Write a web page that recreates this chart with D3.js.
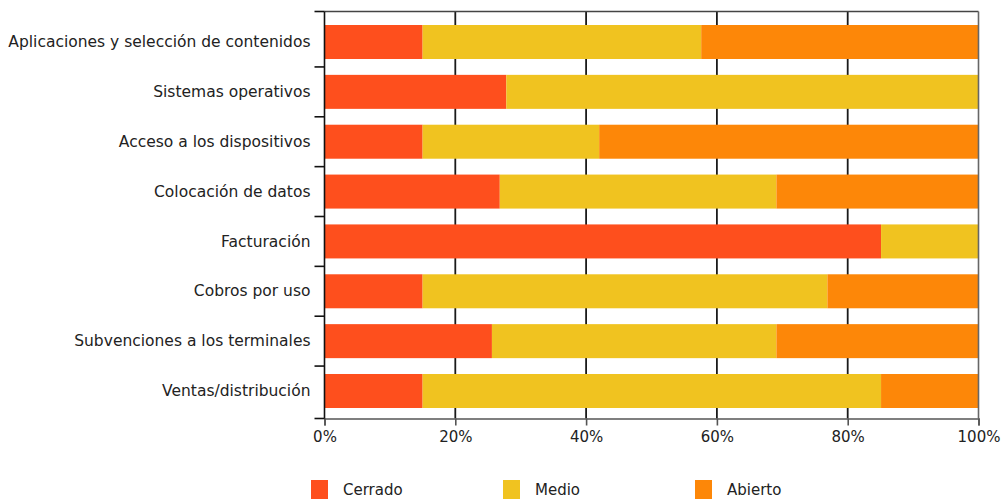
<!DOCTYPE html>
<html>
<head>
<meta charset="utf-8">
<script src="https://cdn.jsdelivr.net/npm/d3@7"></script>
<style>
  body { margin: 0; background: #fff; }
  text { font-family: "DejaVu Sans", Verdana, sans-serif; fill: #222; }
</style>
</head>
<body>
<div class="chart"></div>
<script>
var categories = ["Aplicaciones y selección de contenidos",
  "Sistemas operativos",
  "Acceso a los dispositivos",
  "Colocación de datos",
  "Facturación",
  "Cobros por uso",
  "Subvenciones a los terminales",
  "Ventas/distribución"];

var seriesNames = ["Cerrado", "Medio", "Abierto"];
var cerrado = [15, 27.8, 15, 26.8, 85.1, 15, 25.6, 15];
var medio   = [42.6, 72.2, 27, 42.3, 14.9, 61.9, 43.5, 70.1];
var abierto = [42.4, 0, 58, 30.9, 0, 23.1, 30.9, 14.9];
var xTicks = [0, 20, 40, 60, 80, 100];
var colors = ["#fe4f1d", "#f0c320", "#fd8708"];

var svgWidth = 1003;
var svgHeight = 502;
var margin = { top: 11.5, right: 24.5, bottom: 83.5, left: 324.5 };
var width = svgWidth - margin.left - margin.right;
var height = svgHeight - margin.top - margin.bottom;

var svg = d3.select(".chart")
  .append("svg")
  .attr("width", svgWidth)
  .attr("height", svgHeight);

var chartGroup = svg.append("g")
  .attr("transform", `translate(${margin.left}, ${margin.top})`);

// build rows for the stack
var rows = categories.map(function(c, i) {
  return { cat: c, Cerrado: cerrado[i], Medio: medio[i], Abierto: abierto[i] };
});
var stacked = d3.stack().keys(seriesNames)(rows);

var xScale = d3.scaleLinear().domain([0, 100]).range([0, width]);
// bars sit a little lower than the frame top
var yScale = d3.scaleBand().domain(categories)
  .range([13.5, height - 10.5])
  .paddingInner(0.318)
  .paddingOuter(0);

// gridlines (under the bars)
chartGroup.selectAll("line.grid")
  .data(xTicks.slice(1, -1))
  .enter()
  .append("line")
  .attr("class", "grid")
  .attr("x1", d => xScale(d))
  .attr("x2", d => xScale(d))
  .attr("y1", 0)
  .attr("y2", height)
  .attr("stroke", "#1a1a1a")
  .attr("stroke-width", 1.8);

// bars
chartGroup.selectAll("g.series")
  .data(stacked)
  .enter()
  .append("g")
  .attr("class", "series")
  .attr("fill", (d, i) => colors[i])
  .selectAll("rect")
  .data(d => d)
  .enter()
  .append("rect")
  .attr("x", d => xScale(d[0]))
  .attr("y", d => yScale(d.data.cat))
  .attr("width", d => xScale(d[1]) - xScale(d[0]))
  .attr("height", yScale.bandwidth());

// frame top / right
chartGroup.append("line")
  .attr("x1", 0).attr("x2", width).attr("y1", 0).attr("y2", 0)
  .attr("stroke", "#444").attr("stroke-width", 1.6);
chartGroup.append("line")
  .attr("x1", width).attr("x2", width).attr("y1", 0).attr("y2", height)
  .attr("stroke", "#666").attr("stroke-width", 1.6);

// bottom axis
var bottomAxis = d3.axisBottom(xScale)
  .tickValues(xTicks)
  .tickFormat(d => d + "%")
  .tickSize(7)
  .tickPadding(6);
var xAxisG = chartGroup.append("g")
  .attr("transform", `translate(0, ${height})`)
  .call(bottomAxis);
xAxisG.select(".domain").attr("stroke", "#555").attr("stroke-width", 1.6);
xAxisG.selectAll(".tick line").attr("stroke", "#555").attr("stroke-width", 1.6);
xAxisG.selectAll("text")
  .style("font-family", "DejaVu Sans, Verdana, sans-serif")
  .style("font-size", "15px")
  .attr("fill", "#222");

// left axis: line plus ticks between the bars
var gap = yScale.step() - yScale.bandwidth();
var bounds = [0].concat(categories.slice(1).map(c => yScale(c) - gap / 2), [height]);
chartGroup.append("line")
  .attr("x1", 0).attr("x2", 0).attr("y1", 0).attr("y2", height)
  .attr("stroke", "#111").attr("stroke-width", 1.6);
chartGroup.selectAll("line.ytick")
  .data(bounds)
  .enter()
  .append("line")
  .attr("class", "ytick")
  .attr("x1", -10).attr("x2", 0)
  .attr("y1", d => d).attr("y2", d => d)
  .attr("stroke", "#111").attr("stroke-width", 1.6);

chartGroup.selectAll("text.ylab")
  .data(categories)
  .enter()
  .append("text")
  .attr("class", "ylab")
  .attr("x", -14)
  .attr("y", d => yScale(d) + yScale.bandwidth() / 2)
  .attr("dy", "0.33em")
  .attr("text-anchor", "end")
  .style("font-size", "15.5px")
  .text(d => d);

// legend
var legend = svg.append("g").attr("transform", "translate(311, 480)");
var items = legend.selectAll("g")
  .data(seriesNames)
  .enter()
  .append("g")
  .attr("transform", (d, i) => `translate(${i * 192}, 0)`);
items.append("rect")
  .attr("width", 17).attr("height", 19)
  .attr("fill", (d, i) => colors[i]);
items.append("text")
  .attr("x", 32).attr("y", 15)
  .style("font-size", "15px")
  .text(d => d);
</script>
</body>
</html>
